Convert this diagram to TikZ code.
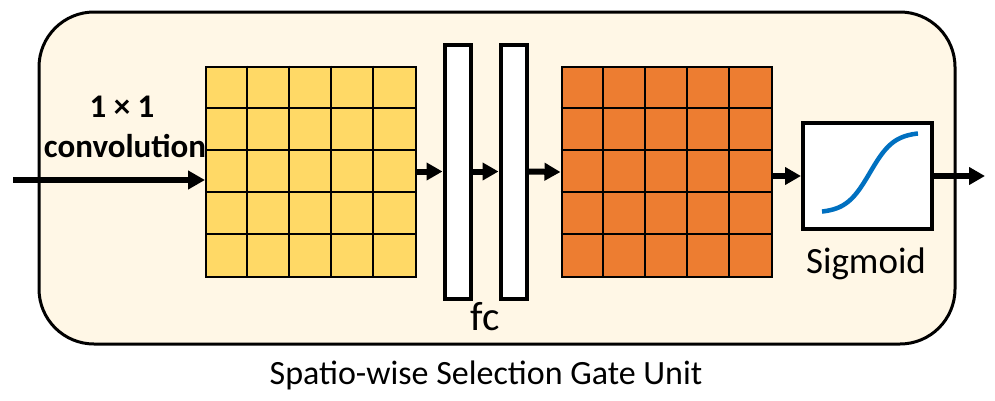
\documentclass[tikz,border=0pt]{standalone}
\usepackage{fontspec}
\setmainfont{Carlito}
\usetikzlibrary{arrows.meta,calc}
\definecolor{bgcream}{RGB}{255,247,230}
\definecolor{gridyellow}{RGB}{255,217,102}
\definecolor{gridorange}{RGB}{237,125,49}
\definecolor{sigblue}{RGB}{0,112,192}
\tikzset{
  outerbox/.style={draw=black,line width=3pt,fill=bgcream,rounded corners=55pt},
  fcbar/.style={draw=black,line width=4pt,fill=white,minimum width=26pt,minimum height=254pt,inner sep=0pt},
  gridbox/.style={draw=black,line width=2pt,minimum width=210pt,minimum height=210pt,inner sep=0pt},
  sigbox/.style={draw=black,line width=4pt,fill=white,minimum width=129pt,minimum height=106pt,inner sep=0pt},
  bigarrow/.style={line width=6pt,-{Triangle[length=17pt,width=18pt]}},
  smallarrow/.style={line width=6pt,-{Triangle[length=16pt,width=17pt]}},
  gridline/.style={draw=black,line width=2pt},
  sigcurve/.style={draw=sigblue,line width=4.5pt},
  boldlabel/.style={inner sep=0pt,font=\fontsize{33}{38}\selectfont\bfseries},
  plainlabel/.style={inner sep=0pt,font=\fontsize{34}{40}\selectfont},
}
\begin{document}
\begin{tikzpicture}[x=1pt,y=-1pt]
\useasboundingbox (0,0) rectangle (995,400);
% outer unit
\node[outerbox,minimum width=916pt,minimum height=332pt,inner sep=0pt] (unit) at (497,178) {};
% yellow grid
\node[gridbox,fill=gridyellow] (g1) at (311,171.5) {};
\foreach \i in {1,...,4} {
  \draw[gridline] ($(g1.north west)+(42*\i,0)$) -- ($(g1.south west)+(42*\i,0)$);
  \draw[gridline] ($(g1.north west)+(0,42*\i)$) -- ($(g1.north east)+(0,42*\i)$);
}
% fc bars
\node[fcbar] (fc1) at (457.5,171.5) {};
\node[fcbar] (fc2) at (513.5,171.5) {};
% orange grid
\node[gridbox,fill=gridorange] (g2) at (666.5,172) {};
\foreach \i in {1,...,4} {
  \draw[gridline] ($(g2.north west)+(42.2*\i,0)$) -- ($(g2.south west)+(42.2*\i,0)$);
  \draw[gridline] ($(g2.north west)+(0,42*\i)$) -- ($(g2.north east)+(0,42*\i)$);
}
% sigmoid box
\node[sigbox] (sig) at (867.5,176) {};
\draw[sigcurve] plot[domain=0:1,samples=60,smooth] ({822+96*\x},{213-81*(1/(1+exp(-8*(\x-0.5))))});
% texts
\node[boldlabel] (k11) at (122,107) {1 × 1};
\node[boldlabel] (conv) at (125,146) {convolution};
\node[plainlabel,font=\fontsize{37}{42}\selectfont,anchor=base] (sigtxt) at (866,273) {Sigmoid};
\node[plainlabel,font=\fontsize{41}{46}\selectfont,anchor=base] (fctxt) at (485,330) {fc};
\node[plainlabel,anchor=base] (cap) at (486,384) {Spatio-wise Selection Gate Unit};
% arrows
\coordinate (in) at (13,180);
\coordinate (out) at (985,176);
\draw[bigarrow] (in) -- (in -| g1.west);
\draw[smallarrow] (g1.east) -- (fc1.west);
\draw[smallarrow] (fc1.east) -- (fc2.west);
\draw[smallarrow] (fc2.east) -- (g2.west);
\draw[smallarrow] (g2.east |- sig.west) -- (sig.west);
\draw[smallarrow] (sig.east) -- (out);
\end{tikzpicture}
\end{document}
